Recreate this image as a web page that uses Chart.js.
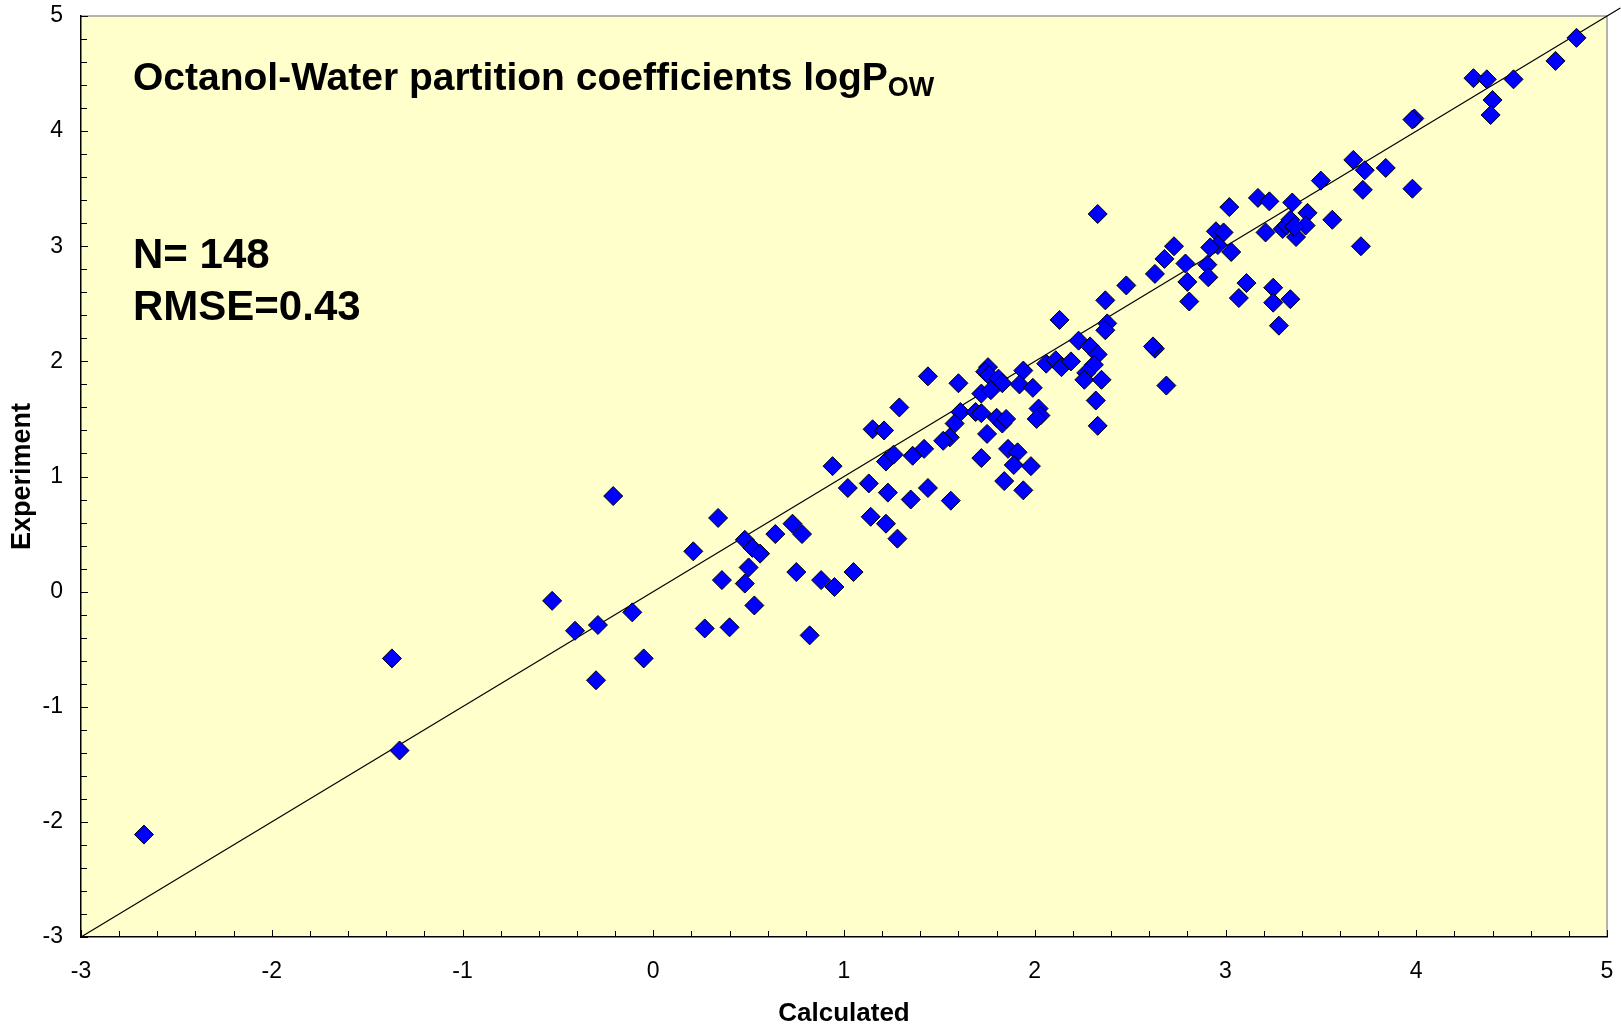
<!DOCTYPE html>
<html>
<head>
<meta charset="utf-8">
<script src="https://cdn.jsdelivr.net/npm/chart.js@4.4.0/dist/chart.umd.min.js"></script>
<style>
html,body{margin:0;padding:0;background:#ffffff;}
#wrap{width:1621px;height:1024px;position:relative;}
</style>
</head>
<body>
<div id="wrap"><canvas id="c" width="1621" height="1024"></canvas></div>
<script>
// ---- data ----
const calculated = [
 -2.67,-1.37,-1.33,-0.53,-0.41,-0.29,-0.30,-0.21,-0.11,-0.05,
  0.21, 0.27, 0.34, 0.36, 0.40, 0.48, 0.52, 0.56, 0.50, 0.48,
  0.53, 0.64, 0.73, 0.78, 0.75, 0.88, 0.95, 1.05, 0.82, 0.94,
  1.02, 1.13, 1.23, 1.35, 1.14, 1.22, 1.28, 1.22, 1.26, 1.36,
  1.42, 1.44, 1.56, 1.29, 1.15, 1.21, 1.44, 1.60, 1.61, 1.58,
  1.555,1.52, 1.69, 1.72, 1.755,1.74, 1.76, 1.81, 1.83, 1.72,
  1.77, 1.94, 1.92, 1.99, 2.06, 2.11, 2.14, 2.19, 2.23, 2.29,
  2.33, 2.31, 2.27, 2.26, 2.35, 2.32, 2.33, 2.38, 2.37, 2.63,
  2.62, 2.69, 1.80, 1.83, 1.85, 1.75, 1.72, 1.86, 1.91, 1.89,
  1.98, 1.84, 1.94, 2.02, 2.03, 2.01, 2.33, 2.37, 2.13, 2.48,
  2.73, 2.68, 2.63, 2.79, 2.80, 2.81, 2.905,2.91, 2.95, 2.99,
  2.96, 2.92, 3.03, 3.02, 3.17, 3.23, 3.35, 3.43, 3.56, 3.71,
  3.21, 3.30, 3.32, 3.37, 3.42, 3.34, 3.36, 3.11, 3.07, 3.25,
  3.25, 3.34, 3.28, 3.50, 3.67, 3.73, 3.84, 3.72, 3.98, 3.99,
  3.98, 4.40, 4.39, 4.30, 4.37, 4.51, 4.73, 4.84
];
const experiment = [
 -2.11,-0.58,-1.38,-0.08,-0.34,-0.29,-0.77, 0.83,-0.18,-0.58,
  0.35,-0.32, 0.64, 0.10,-0.31, 0.45, 0.38, 0.33, 0.21, 0.07,
 -0.12, 0.50, 0.59, 0.50, 0.17, 0.10, 0.04, 0.17,-0.38, 1.09,
  0.90, 0.94, 0.86, 0.80, 0.65, 0.59, 0.46, 1.13, 1.19, 1.18,
  1.24, 0.90, 0.79, 1.60, 1.41, 1.40, 1.87, 1.81, 1.56, 1.46,
  1.34, 1.31, 1.56, 1.55, 1.95, 1.91, 1.88, 1.85, 1.81, 1.72,
  1.75, 1.92, 1.80, 1.77, 1.98, 2.01, 1.95, 2.00, 2.18, 2.13,
  2.06, 1.97, 1.90, 1.84, 1.84, 1.66, 1.44, 2.33, 2.27, 2.11,
  2.13, 1.79, 1.51, 1.46, 1.50, 1.37, 1.16, 1.24, 1.21, 1.10,
  1.09, 0.96, 0.88, 1.59, 1.53, 1.50, 3.28, 2.53, 2.36, 2.66,
  3.00, 2.89, 2.76, 2.85, 2.69, 2.52, 2.84, 2.73, 3.13, 3.12,
  3.01, 2.99, 2.95, 3.34, 3.42, 3.39, 3.38, 3.29, 3.23, 3.00,
  3.12, 3.15, 3.18, 3.08, 3.18, 3.23, 3.17, 2.68, 2.55, 2.64,
  2.51, 2.54, 2.31, 3.57, 3.75, 3.66, 3.68, 3.49, 3.50, 4.11,
  4.10, 4.27, 4.14, 4.46, 4.45, 4.45, 4.61, 4.81
];
const xTickValues = [-3, -2, -1, 0, 1, 2, 3, 4, 5];
const yTickValues = [-3, -2, -1, 0, 1, 2, 3, 4, 5];
const diagonalEnds = [-3, 5.07];
const chartTitle = 'Octanol-Water partition coefficients logP';
const chartTitleSub = 'OW';
const statsLines = ['N= 148', 'RMSE=0.43'];
const xAxisTitle = 'Calculated';
const yAxisTitle = 'Experiment';

// ---- build library structures ----
const points = calculated.map((v, i) => ({x: v, y: experiment[i]}));
const diagonal = diagonalEnds.map(v => ({x: v, y: v}));
const FONT = '"Liberation Sans", Arial, Helvetica, sans-serif';
const MINOR_STEP = 0.2;

const decor = {
  id: 'decor',
  beforeDraw(chart) {
    const {ctx, chartArea: a} = chart;
    ctx.save();
    ctx.fillStyle = '#FFFFCC';
    ctx.fillRect(a.left, a.top, a.right - a.left, a.bottom - a.top);
    ctx.strokeStyle = '#9a9a9a';
    ctx.lineWidth = 1.5;
    ctx.beginPath();
    ctx.moveTo(a.left, a.top); ctx.lineTo(a.right, a.top); ctx.lineTo(a.right, a.bottom);
    ctx.stroke();
    ctx.restore();
  },
  beforeDatasetsDraw(chart) {
    const {ctx, chartArea: a, scales} = chart;
    const xs = scales.x, ys = scales.y;
    ctx.save();
    ctx.strokeStyle = '#000';
    ctx.lineWidth = 1;
    ctx.beginPath();
    const n = Math.round((xs.max - xs.min) / MINOR_STEP);
    for (let i = 0; i <= n; i++) {
      const v = xs.min + i * MINOR_STEP;
      const major = i % 5 === 0;
      const px = Math.round(xs.getPixelForValue(v)) + 0.5;
      ctx.moveTo(px, a.bottom); ctx.lineTo(px, a.bottom - (major ? 7 : 6));
    }
    const m = Math.round((ys.max - ys.min) / MINOR_STEP);
    for (let i = 0; i <= m; i++) {
      const v = ys.min + i * MINOR_STEP;
      const major = i % 5 === 0;
      const py = Math.round(ys.getPixelForValue(v)) + 0.5;
      ctx.moveTo(a.left, py); ctx.lineTo(a.left + (major ? 7 : 6), py);
    }
    ctx.stroke();
    ctx.restore();
  },
  afterDraw(chart) {
    const {ctx, chartArea: a} = chart;
    ctx.save();
    ctx.fillStyle = '#000';
    ctx.textBaseline = 'alphabetic';
    ctx.textAlign = 'left';
    const tx = a.left + 52;
    ctx.font = 'bold 39px ' + FONT;
    ctx.fillText(chartTitle, tx, a.top + 74);
    const w = ctx.measureText(chartTitle).width;
    ctx.font = 'bold 27px ' + FONT;
    ctx.fillText(chartTitleSub, tx + w, a.top + 80);
    ctx.font = 'bold 42px ' + FONT;
    ctx.fillText(statsLines[0], tx, a.top + 252);
    ctx.fillText(statsLines[1], tx, a.top + 304);
    ctx.restore();
  }
};

new Chart(document.getElementById('c'), {
  data: {
    datasets: [
      {
        type: 'scatter',
        data: points,
        pointStyle: 'rectRot',
        pointRadius: 9.5,
        pointHoverRadius: 9.5,
        backgroundColor: '#0000FF',
        borderColor: '#000000',
        borderWidth: 1,
        order: 0
      },
      {
        type: 'line',
        data: diagonal,
        borderColor: '#000000',
        borderWidth: 1.2,
        pointRadius: 0,
        fill: false,
        clip: false,
        order: 1
      }
    ]
  },
  options: {
    responsive: false,
    devicePixelRatio: 1,
    animation: false,
    events: [],
    layout: {padding: {top: 16, right: 14, left: 0, bottom: 0}},
    plugins: {legend: {display: false}, tooltip: {enabled: false}, title: {display: false}},
    scales: {
      x: {
        type: 'linear', position: 'bottom', min: -3, max: 5,
        afterBuildTicks: s => { s.ticks = xTickValues.map(v => ({value: v})); },
        afterFit: s => { s.height = 87; s.paddingLeft = 0; s.paddingRight = 0; },
        ticks: {color: '#000', font: {family: FONT, size: 23}, padding: 21, maxRotation: 0, autoSkip: false},
        grid: {display: false, drawTicks: false},
        border: {display: true, color: '#000', width: 1.5},
        title: {display: true, text: xAxisTitle, color: '#000',
                font: {family: FONT, size: 26, weight: 'bold', lineHeight: 1}, padding: {top: 0, bottom: -3}}
      },
      y: {
        type: 'linear', position: 'left', min: -3, max: 5,
        afterBuildTicks: s => { s.ticks = yTickValues.map(v => ({value: v})); },
        afterFit: s => { s.width = 81; s.paddingTop = 0; s.paddingBottom = 0; },
        ticks: {color: '#000', font: {family: FONT, size: 23}, padding: 18, autoSkip: false},
        grid: {display: false, drawTicks: false},
        border: {display: true, color: '#000', width: 1.5},
        title: {display: true, text: yAxisTitle, color: '#000',
                font: {family: FONT, size: 27, weight: 'bold', lineHeight: 1}, padding: {top: 9, bottom: 0}}
      }
    }
  },
  plugins: [decor]
});
</script>
</body>
</html>
